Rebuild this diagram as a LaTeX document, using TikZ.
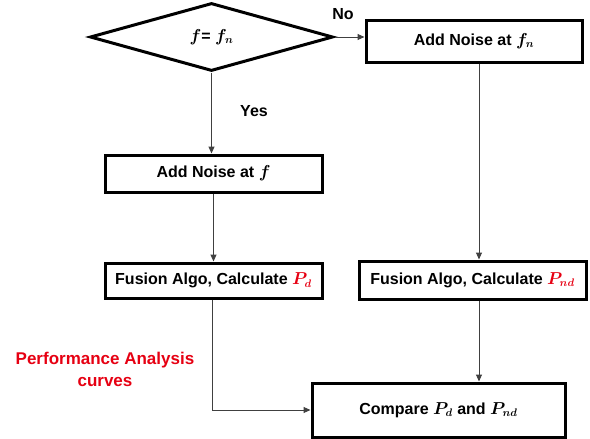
\documentclass[tikz,border=0pt]{standalone}
\usepackage{fontspec}
\setmainfont{Liberation Sans}
\usepackage{amsmath,bm}
\usetikzlibrary{shapes.geometric,arrows.meta}
\definecolor{lblred}{RGB}{230,0,18}
\tikzset{
  txt/.style={font=\bfseries\fontsize{16}{18}\selectfont},
  box/.style={draw=black, line width=3pt, minimum height=#1, inner sep=0pt, txt},
  conn/.style={draw=black!75, line width=1pt, -{Triangle[length=7pt,width=6pt]}},
}
\begin{document}
\begin{tikzpicture}[x=1pt,y=-1pt]
\useasboundingbox (0,0) rectangle (590,439);
\node[draw=black, line width=3pt, shape=diamond, aspect=3.57, minimum width=243pt, minimum height=68pt, inner sep=0pt, txt] (dec) at (211.5,37) {$\bm{f}$= $\bm{f_n}$};
\node[box=42pt, minimum width=216pt] (addfn) at (474,41) {Add Noise at $\bm{f_n}$};
\node[box=37pt, minimum width=217pt] (addf) at (213.5,173.5) {Add Noise at $\bm{f}$};
\node[box=35pt, minimum width=217pt] (fusd) at (213.5,280.5) {Fusion Algo, Calculate \textcolor{lblred}{$\bm{P_d}$}};
\node[box=38pt, minimum width=227pt] (fusnd) at (472.5,280) {Fusion Algo, Calculate \textcolor{lblred}{$\bm{P_{nd}}$}};
\node[box=54pt, minimum width=253pt] (comp) at (438.5,410) {Compare $\bm{P_d}$ and $\bm{P_{nd}}$};
\node[txt] (no) at (343,14) {No};
\node[txt] (yes) at (254,111) {Yes};
\node[txt, font=\bfseries\fontsize{17}{19}\selectfont, text=lblred, align=center] (perf) at (105,369.5) {Performance Analysis\\[3pt]curves};
\draw[conn] (dec.south) -- (dec.south |- addf.north);
\draw[conn] (dec.east) -- (dec.east -| addfn.west);
\draw[conn] (addf.south) -- (fusd.north);
\draw[conn] ([xshift=5pt]addfn.south) -- ([xshift=6.5pt]fusnd.north);
\draw[conn] ([xshift=6.5pt]fusnd.south) -- ([xshift=6.5pt]fusnd.south |- comp.north);
\draw[conn] ([xshift=-1.5pt]fusd.south) |- (comp.west);
\end{tikzpicture}
\end{document}
